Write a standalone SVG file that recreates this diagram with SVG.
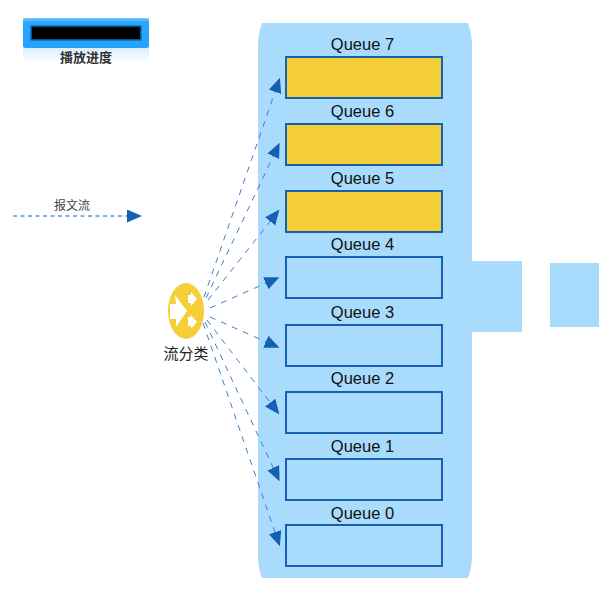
<svg xmlns="http://www.w3.org/2000/svg" width="599" height="600" viewBox="0 0 599 600">
<style>
.q{fill:none;stroke:#1560B0;stroke-width:2}
.y{fill:#F5CE38}
.ql{font:16.500px "Liberation Sans",Arial,sans-serif;fill:#111;text-anchor:middle}
.cj{font-family:"Noto Sans CJK SC","Liberation Sans",sans-serif;text-anchor:middle}
.c{fill:none;stroke:#3F7FC4;stroke-width:1;stroke-dasharray:6 6;marker-end:url(#a)}
.l{fill:none;stroke:#1560B0;stroke-width:1;stroke-dasharray:4 3.500;marker-end:url(#a)}
.p{fill:#A9DBFD}
</style>
<defs>
<marker id="a" markerUnits="userSpaceOnUse" markerWidth="16" markerHeight="14" refX="3" refY="6.500" orient="auto"><path d="M0 0L15 6.500L0 13Z" fill="#1560B0"/></marker>
<linearGradient id="r" x1="0" y1="0" x2="0" y2="1"><stop offset="0" stop-color="#D8EFFF"/><stop offset="1" stop-color="#fff"/></linearGradient>
<linearGradient id="b" x1="0" y1="0" x2="0" y2="1"><stop offset="0" stop-color="#6FC6FF"/><stop offset=".15" stop-color="#2AA6FF"/><stop offset="1" stop-color="#26A2FF"/></linearGradient>
</defs>
<g id="panel">
<path class="p" d="M262 23H468Q472 34 472 46V261H522V332H472V556Q472 568 468 578H262Q258 568 258 556V46Q258 34 262 23Z"/>
<rect class="p" x="550" y="263" width="49" height="64"/>
</g>
<g id="progress">
<rect x="23" y="48" width="126" height="14" fill="url(#r)"/>
<rect x="23" y="18" width="126" height="30" rx="2" fill="url(#b)"/>
<rect x="31" y="26" width="110" height="14" fill="#000" stroke="#0F6FB5" stroke-width="1.500"/>
<text x="86" y="62" class="cj" font-size="13" font-weight="700" fill="#333">播放进度</text>
</g>
<g id="legend">
<text x="72" y="210" class="cj" font-size="12" fill="#444">报文流</text>
<path class="l" d="M13 216H130"/>
</g>
<g id="classifier">
<ellipse cx="186" cy="311" rx="18" ry="28" class="y"/>
<path fill="#fff" d="M170 304H176L175 295L187 311L176 327L176 319H170Z"/>
<path fill="#fff" d="M188 295H191V292L197 299L191 306V303H188Z"/>
<path fill="#fff" d="M188 317H191V315L197 322L191 329V326H188Z"/>
<text x="186" y="359" class="cj" font-size="15" fill="#222">流分类</text>
</g>
<g id="q7"><rect x="286" y="57" width="156" height="41" class="y"/><rect x="286" y="57" width="156" height="41" class="q"/><text x="362.500" y="49.500" class="ql">Queue 7</text></g>
<g id="q6"><rect x="286" y="124" width="156" height="41" class="y"/><rect x="286" y="124" width="156" height="41" class="q"/><text x="362.500" y="116.500" class="ql">Queue 6</text></g>
<g id="q5"><rect x="286" y="191" width="156" height="41" class="y"/><rect x="286" y="191" width="156" height="41" class="q"/><text x="362.500" y="183.500" class="ql">Queue 5</text></g>
<g id="q4"><rect x="286" y="257" width="156" height="41" class="q"/><text x="362.500" y="249.500" class="ql">Queue 4</text></g>
<g id="q3"><rect x="286" y="325" width="156" height="41" class="q"/><text x="362.500" y="317.500" class="ql">Queue 3</text></g>
<g id="q2"><rect x="286" y="392" width="156" height="41" class="q"/><text x="362.500" y="384" class="ql">Queue 2</text></g>
<g id="q1"><rect x="286" y="459" width="156" height="41" class="q"/><text x="362.500" y="451.500" class="ql">Queue 1</text></g>
<g id="q0"><rect x="286" y="525" width="156" height="41" class="q"/><text x="362.500" y="518.500" class="ql">Queue 0</text></g>
<g id="connectors">
<path class="c" d="M204 297L276 89"/>
<path class="c" d="M206 298L274.500 153.500"/>
<path class="c" d="M208 300L272 219"/>
<path class="c" d="M210 308L268.500 282"/>
<path class="c" d="M210 317L268.500 343"/>
<path class="c" d="M207 320L272 405"/>
<path class="c" d="M205 322L274.500 470.500"/>
<path class="c" d="M203 323L276 535"/>
</g>
</svg>
